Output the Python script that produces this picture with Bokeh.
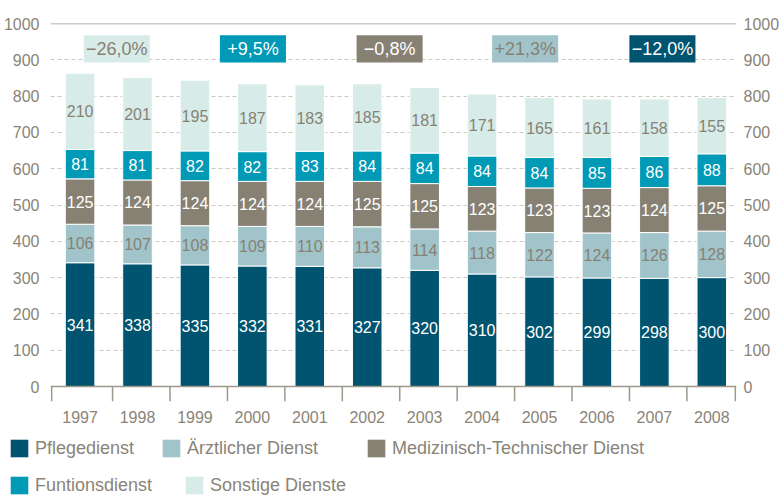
import numpy as np
from bokeh.plotting import figure
from bokeh.layouts import column
from bokeh.models import (Range1d, FixedTicker, Span, Legend, LegendItem,
                          ColumnDataSource, LinearAxis)
from bokeh.core.properties import value
from bokeh.embed import file_html
from bokeh.resources import INLINE

# ---------------- data ----------------
years = ["1997", "1998", "1999", "2000", "2001", "2002",
         "2003", "2004", "2005", "2006", "2007", "2008"]
pflege = [341, 338, 335, 332, 331, 327, 320, 310, 302, 299, 298, 300]
aerztlich = [106, 107, 108, 109, 110, 113, 114, 118, 122, 124, 126, 128]
medtech = [125, 124, 124, 124, 124, 125, 125, 123, 123, 123, 124, 125]
funktion = [81, 81, 82, 82, 83, 84, 84, 84, 84, 85, 86, 88]
sonstige = [210, 201, 195, 187, 183, 185, 181, 171, 165, 161, 158, 155]
series_names = ["Pflegedienst", "Ärztlicher Dienst",
                "Medizinisch-Technischer Dienst", "Funtionsdienst",
                "Sonstige Dienste"]
change_labels = ["−26,0%", "+9,5%", "−0,8%", "+21,3%", "−12,0%"]
y_ticks = list(range(0, 1001, 100))

# ---------------- styling / layout ----------------
FONT = "Liberation Sans"
GRAY = "#8a8477"
colors = ["#00546f", "#a1c4ca", "#878174", "#0099b6", "#d7ece9"]
label_colors = ["white", "#878174", "white", "white", "#878174"]
change_fill = ["#d7ece9", "#0099b6", "#878174", "#a1c4ca", "#00546f"]
change_text = ["#878174", "white", "white", "#878174", "white"]
change_x = [0.64, 3.01, 5.39, 7.75, 10.14]
change_y = 930
x_start, x_end = -0.515, 11.43
y_start = -41.3

keys = ["pflege", "aerztlich", "medtech", "funktion", "sonstige"]
series = [pflege, aerztlich, medtech, funktion, sonstige]
x = np.arange(len(years))
src = ColumnDataSource(dict(x=x, **{k: v for k, v in zip(keys, series)}))

p = figure(width=782, height=425, x_range=Range1d(x_start, x_end),
           y_range=Range1d(y_start, 1000), output_backend="svg",
           toolbar_location=None, min_border_left=49, min_border_right=37,
           min_border_top=23, min_border_bottom=23)
p.frame_align = False
p.outline_line_color = None
p.xgrid.grid_line_color = None
p.ygrid.ticker = FixedTicker(ticks=y_ticks[1:-1])
p.ygrid.grid_line_color = "#cdc9c1"
p.ygrid.grid_line_dash = "4 3"
p.ygrid.grid_line_width = 1

renderers = p.vbar_stack(keys, x="x", width=0.515, source=src,
                         fill_color=colors, line_color="white", line_width=1)

# segment labels
bottom = np.zeros(len(years))
for vals, tc in zip(series, label_colors):
    vals = np.array(vals)
    mid = bottom + vals / 2
    p.text(x=x, y=mid, text=[str(v) for v in vals], text_align="center",
           text_baseline="middle", text_color=tc,
           text_font=value(FONT), text_font_size="16px")
    bottom = bottom + vals

# change boxes
p.rect(x=change_x, y=[change_y] * 5, width=1.15, height=75,
       fill_color=change_fill, line_color=None)
p.text(x=change_x, y=[change_y] * 5, text=change_labels, text_align="center",
       text_baseline="middle", text_color=change_text,
       text_font=value(FONT), text_font_size="18px")

# baseline, top line, category separators
p.add_layout(Span(location=0, dimension="width", line_color="#9d988c", line_width=1.5))
p.add_layout(Span(location=1000, dimension="width", line_color="#9d988c", line_width=1.5))
tick_x = [x_start + 0.02] + [i + 0.566 for i in range(len(years) - 1)] + [x_end - 0.02]
p.segment(x0=tick_x, y0=[0] * len(tick_x), x1=tick_x, y1=[y_start] * len(tick_x),
          line_color="#9d988c", line_width=1.5)

# axes
p.xaxis.ticker = FixedTicker(ticks=list(x))
p.xaxis.major_label_overrides = {int(i): y for i, y in zip(x, years)}
p.xaxis.axis_line_color = None
p.xaxis.major_tick_line_color = None
p.xaxis.minor_tick_line_color = None
p.xaxis.major_label_standoff = 3
p.xaxis.major_label_text_font = FONT
p.xaxis.major_label_text_font_size = "16px"
p.xaxis.major_label_text_color = GRAY

ax_r = LinearAxis()
p.add_layout(ax_r, "right")
for ax, st in ((p.yaxis[0], 5), (ax_r, 1)):
    ax.ticker = FixedTicker(ticks=y_ticks)
    ax.axis_line_color = None
    ax.major_tick_line_color = None
    ax.minor_tick_line_color = None
    ax.major_label_standoff = st
    ax.major_label_text_font = FONT
    ax.major_label_text_font_size = "16px"
    ax.major_label_text_color = GRAY

# ---------------- legend panel ----------------
lg = figure(width=782, height=71, x_range=Range1d(0, 1), y_range=Range1d(0, 1),
            output_backend="svg", toolbar_location=None,
            min_border=0, min_border_left=0, min_border_right=0,
            min_border_top=0, min_border_bottom=0,
            x_axis_location=None, y_axis_location=None)
lg.frame_align = False
lg.outline_line_color = None
lg.grid.grid_line_color = None
legend_pos = [(8, 37), (160, 37), (365, 37), (8, 0), (183, 0)]
for name, c, (vx, vy) in zip(series_names, colors, legend_pos):
    r = lg.vbar(x=[0.5], top=[0], bottom=[0], width=0, fill_color=c, line_color=None)
    leg = Legend(items=[LegendItem(label=name, renderers=[r])], location=(vx, vy),
                 orientation="horizontal", glyph_width=22, glyph_height=22,
                 label_height=22, label_standoff=5, padding=0, margin=0,
                 border_line_color=None, background_fill_alpha=0,
                 label_text_font=FONT, label_text_font_size="18px",
                 label_text_color=GRAY)
    lg.add_layout(leg, "center")

layout = column(p, lg, spacing=0)
open("out.html", "w").write(file_html(layout, INLINE))
